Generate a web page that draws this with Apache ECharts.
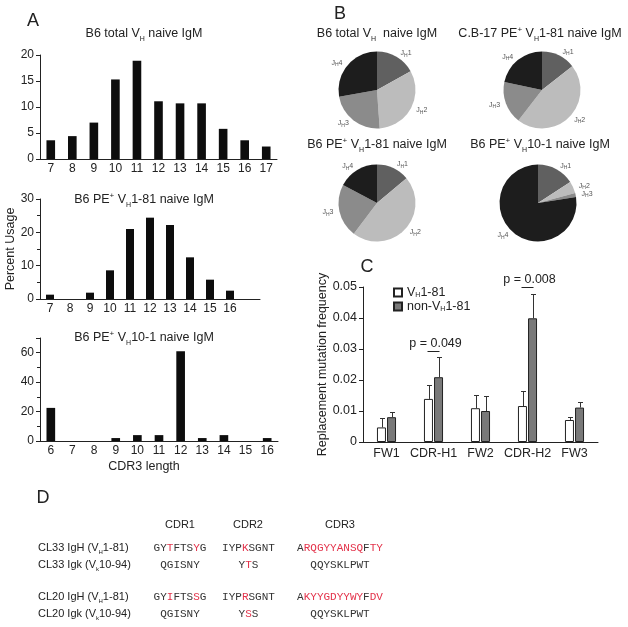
<!DOCTYPE html>
<html><head><meta charset="utf-8">
<script src="https://cdn.jsdelivr.net/npm/echarts@6/dist/echarts.min.js"></script>
<style>html,body{margin:0;padding:0;background:#fff}#c{width:628px;height:627px}</style>
</head><body><div id="c"></div>
<script>
// ---------- data ----------
const totalCats = ['7','8','9','10','11','12','13','14','15','16','17'];
const totalVals = [3.6, 4.4, 7.0, 15.3, 18.9, 11.1, 10.7, 10.7, 5.8, 3.6, 2.4];
const vh181Cats = ['7','8','9','10','11','12','13','14','15','16',''];
const vh181Vals = [1.3, 0, 1.9, 8.6, 21.0, 24.4, 22.2, 12.5, 5.8, 2.5];
const vh101Cats = ['6','7','8','9','10','11','12','13','14','15','16'];
const vh101Vals = [22.5, 0, 0, 2, 4, 4, 61, 2, 4, 0, 2];

const jhNames = ['JH1','JH2','JH3','JH4'];
const pieB6Total = [16.9, 32.0, 23.3, 27.8];
const pieCB17 = [14.4, 46.1, 17.8, 21.7];
const pieB6PE181 = [13.9, 46.4, 22.5, 17.2];
const pieB6PE101 = [15.8, 5.0, 1.7, 77.5];

const regions = ['FW1','CDR-H1','FW2','CDR-H2','FW3'];
const vhFreq = [0.0047, 0.0139, 0.0109, 0.0116, 0.0071];
const vhErrTop = [0.0076, 0.0183, 0.0152, 0.0165, 0.0082];
const nonFreq = [0.0080, 0.0209, 0.0100, 0.0399, 0.0111];
const nonErrTop = [0.0098, 0.0274, 0.0148, 0.0476, 0.0128];
const pRegions = [1, 3];
const pLevels = [0.0295, 0.050];
const pLabels = ['p = 0.049', 'p = 0.008'];

const seqRows = [
  {name:'CL33 IgH (V', sub:'H', tail:'1-81)', cdr1:'GYTFTSYG', r1:[2,6], cdr2:'IYPKSGNT', r2:[3], cdr3:'ARQGYYANSQFTY', r3:[1,2,3,4,5,6,7,8,9,11,12]},
  {name:'CL33 Igk (V', sub:'k', tail:'10-94)', cdr1:'QGISNY', r1:[], cdr2:'YTS', r2:[1], cdr3:'QQYSKLPWT', r3:[]},
  {name:'CL20 IgH (V', sub:'H', tail:'1-81)', cdr1:'GYIFTSSG', r1:[2,6], cdr2:'IYPRSGNT', r2:[3], cdr3:'AKYYGDYYWYFDV', r3:[1,2,3,4,5,6,7,8,9,11,12]},
  {name:'CL20 Igk (V', sub:'k', tail:'10-94)', cdr1:'QGISNY', r1:[], cdr2:'YSS', r2:[1], cdr3:'QQYSKLPWT', r3:[]}
];

// ---------- helpers ----------
const F = 'Liberation Sans, Arial, Helvetica, sans-serif';
const M = 'Liberation Mono, Courier New, monospace';
const TXT = '#222';
const richBase = (fs) => ({
  n: {fontSize: fs, fontFamily: F, fill: TXT, color: TXT, lineHeight: fs + 4},
  s: {fontSize: Math.round(fs * 0.58), fontFamily: F, fill: TXT, color: TXT, lineHeight: Math.round(fs*0.6), verticalAlign: 'bottom'},
  p: {fontSize: Math.round(fs * 0.62), fontFamily: F, fill: TXT, color: TXT, lineHeight: Math.round(fs*0.85), verticalAlign: 'top'}
});
function gtext(x, y, text, fs, align, rich) {
  return {type: 'text', x: x, y: y, silent: true, style: {
    text: text, rich: rich || richBase(fs), fontSize: fs, fontFamily: F, fill: TXT,
    align: align || 'center', textAlign: align || 'center', verticalAlign: 'middle', textVerticalAlign: 'middle'}};
}
function seqRich(seq, red) {
  let out = '', cur = null, buf = '';
  for (let i = 0; i < seq.length; i++) {
    const st = red.indexOf(i) >= 0 ? 'r' : 'k';
    if (st !== cur && buf) { out += '{' + cur + '|' + buf + '}'; buf = ''; }
    cur = st; buf += seq[i];
  }
  if (buf) out += '{' + cur + '|' + buf + '}';
  return out;
}
const seqStyles = {
  k: {fontSize: 11, fontFamily: M, fill: '#333', color: '#333'},
  r: {fontSize: 11, fontFamily: M, fill: '#e3324a', color: '#e3324a'}
};

const axisLineStyle = {show: true, lineStyle: {color: TXT, width: 1}};

// ---------- graphics (titles, panel letters, panel D) ----------
const graphics = [
  gtext(33, 21, '{n|A}', 18),
  gtext(340, 14, '{n|B}', 18),
  gtext(367, 267, '{n|C}', 18),
  gtext(43, 498, '{n|D}', 18),
  gtext(144, 34, '{n|B6 total V}{s|H}{n| naive IgM}', 12.5),
  gtext(144, 200, '{n|B6 PE}{p|+}{n| V}{s|H}{n|1-81 naive IgM}', 12.5),
  gtext(144, 338, '{n|B6 PE}{p|+}{n| V}{s|H}{n|10-1 naive IgM}', 12.5),
  gtext(144, 467, '{n|CDR3 length}', 12.5),
  gtext(377, 34, '{n|B6 total V}{s|H}{n|  naive IgM}', 12.5),
  gtext(540, 34, '{n|C.B-17 PE}{p|+}{n| V}{s|H}{n|1-81 naive IgM}', 12.5),
  gtext(377, 145, '{n|B6 PE}{p|+}{n| V}{s|H}{n|1-81 naive IgM}', 12.5),
  gtext(540, 145, '{n|B6 PE}{p|+}{n| V}{s|H}{n|10-1 naive IgM}', 12.5),
  gtext(180, 525, '{n|CDR1}', 11),
  gtext(248, 525, '{n|CDR2}', 11),
  gtext(340, 525, '{n|CDR3}', 11)
];
const rowY = [548, 565, 597, 614];
seqRows.forEach((r, i) => {
  graphics.push(gtext(38, rowY[i], '{n|' + r.name + '}{s|' + r.sub + '}{n|' + r.tail + '}', 11, 'left'));
  graphics.push(gtext(180, rowY[i], seqRich(r.cdr1, r.r1), 11, 'center', seqStyles));
  graphics.push(gtext(248.5, rowY[i], seqRich(r.cdr2, r.r2), 11, 'center', seqStyles));
  graphics.push(gtext(340, rowY[i], seqRich(r.cdr3, r.r3), 11, 'center', seqStyles));
});

// ---------- pies ----------
const jhColors = ['#606060', '#bcbcbc', '#8b8b8b', '#1d1d1d'];
function pieSeries(vals, cx, cy) {
  return {
    type: 'pie', center: [cx, cy], radius: 38.5, startAngle: 90, clockwise: true,
    avoidLabelOverlap: false, silent: true, animation: false,
    data: vals.map((v, i) => ({name: jhNames[i], value: v, itemStyle: {color: jhColors[i]}})),
    label: {show: true, position: 'outside', distanceToLabelLine: 2,
      formatter: p => '{j|J}{h|H}{j|' + (p.dataIndex + 1) + '}',
      rich: {j: {fontSize: 7, fontFamily: F, color: '#555', lineHeight: 9},
             h: {fontSize: 5, fontFamily: F, color: '#555', lineHeight: 5, verticalAlign: 'bottom'}}},
    labelLine: {show: false, length: 4, length2: 0}
  };
}

// ---------- error bars ----------
function errRender(offset) {
  return function (params, api) {
    const i = api.value(0);
    const p0 = api.coord([i, api.value(1)]);
    const p1 = api.coord([i, api.value(2)]);
    const x = Math.round(p0[0] + offset) + 0.5;
    const yt = Math.round(p1[1]) + 0.5;
    return {type: 'group', children: [
      {type: 'line', shape: {x1: x, y1: p0[1], x2: x, y2: yt}, style: {stroke: '#333', lineWidth: 1}},
      {type: 'line', shape: {x1: x - 2.5, y1: yt, x2: x + 2.5, y2: yt}, style: {stroke: '#333', lineWidth: 1}}
    ]};
  };
}

const yLabel = {color: TXT, fontFamily: F, fontSize: 12, margin: 6};
const xLabel = {color: TXT, fontFamily: F, fontSize: 12, margin: 4, interval: 0};

const option = {
  animation: false,
  backgroundColor: '#fff',
  graphic: graphics,
  legend: {
    left: 388, top: 281, orient: 'vertical', itemWidth: 8, itemHeight: 8, itemGap: 1, icon: 'rect',
    data: ['VH1-81', 'non-VH1-81'], selectedMode: false,
    formatter: n => n === 'VH1-81' ? '{n|V}{s|H}{n|1-81}' : '{n|non-V}{s|H}{n|1-81}',
    textStyle: {rich: {
      n: {fontSize: 12.5, fontFamily: F, color: TXT, lineHeight: 13},
      s: {fontSize: 7, fontFamily: F, color: TXT, lineHeight: 7, verticalAlign: 'bottom'}}}
  },
  grid: [
    {left: 40, top: 55, width: 237, height: 104, outerBoundsMode: 'none'},
    {left: 40, top: 199, width: 220, height: 100, outerBoundsMode: 'none'},
    {left: 40, top: 338, width: 238, height: 103, outerBoundsMode: 'none'},
    {left: 363, top: 287, width: 235, height: 155, outerBoundsMode: 'none'}
  ],
  xAxis: [
    {type: 'category', gridIndex: 0, data: totalCats, axisLine: axisLineStyle, axisTick: {show: false}, axisLabel: xLabel},
    {type: 'category', gridIndex: 1, data: vh181Cats, axisLine: axisLineStyle, axisTick: {show: false}, axisLabel: xLabel},
    {type: 'category', gridIndex: 2, data: vh101Cats, axisLine: axisLineStyle, axisTick: {show: false}, axisLabel: xLabel},
    {type: 'category', gridIndex: 3, data: regions, axisLine: axisLineStyle, axisTick: {show: false},
      axisLabel: {color: TXT, fontFamily: F, fontSize: 12.5, margin: 5, interval: 0}}
  ],
  yAxis: [
    {type: 'value', gridIndex: 0, min: 0, max: 20, interval: 5, axisLine: axisLineStyle,
      axisTick: {show: true, length: 4, lineStyle: {color: TXT}}, splitLine: {show: false}, axisLabel: yLabel},
    {type: 'value', gridIndex: 1, min: 0, max: 30, interval: 10, axisLine: axisLineStyle,
      axisTick: {show: true, length: 4, lineStyle: {color: TXT}},
      minorTick: {show: true, splitNumber: 2, length: 3, lineStyle: {color: TXT}},
      splitLine: {show: false}, axisLabel: yLabel,
      name: 'Percent Usage', nameLocation: 'middle', nameGap: 23, nameRotate: 90,
      nameTextStyle: {color: TXT, fontFamily: F, fontSize: 12.5}},
    {type: 'value', gridIndex: 2, min: 0, max: 70, interval: 20, axisLine: axisLineStyle,
      axisTick: {show: true, length: 4, lineStyle: {color: TXT}},
      minorTick: {show: true, splitNumber: 2, length: 3, lineStyle: {color: TXT}},
      splitLine: {show: false}, axisLabel: Object.assign({showMaxLabel: false}, yLabel)},
    {type: 'value', gridIndex: 3, min: 0, max: 0.05, interval: 0.01, axisLine: axisLineStyle,
      axisTick: {show: true, length: 4, lineStyle: {color: TXT}}, splitLine: {show: false},
      axisLabel: {color: TXT, fontFamily: F, fontSize: 12.5, margin: 6, formatter: v => v === 0 ? '0' : v.toFixed(2)},
      name: 'Replacement mutation frequency', nameLocation: 'middle', nameGap: 32, nameRotate: 90,
      nameTextStyle: {color: TXT, fontFamily: F, fontSize: 12.5}}
  ],
  series: [
    {type: 'bar', xAxisIndex: 0, yAxisIndex: 0, data: totalVals, barWidth: '40%', itemStyle: {color: '#0d0d0d'}, silent: true},
    {type: 'bar', xAxisIndex: 1, yAxisIndex: 1, data: vh181Vals, barWidth: '40%', itemStyle: {color: '#0d0d0d'}, silent: true},
    {type: 'bar', xAxisIndex: 2, yAxisIndex: 2, data: vh101Vals, barWidth: '40%', itemStyle: {color: '#0d0d0d'}, silent: true},
    {type: 'bar', name: 'VH1-81', xAxisIndex: 3, yAxisIndex: 3, data: vhFreq, barWidth: 9, barGap: '12%',
      itemStyle: {color: '#ffffff', borderColor: '#222', borderWidth: 1}, silent: true},
    {type: 'bar', name: 'non-VH1-81', xAxisIndex: 3, yAxisIndex: 3, data: nonFreq, barWidth: 9, barGap: '12%',
      itemStyle: {color: '#797979', borderColor: '#222', borderWidth: 1}, silent: true},
    {type: 'custom', xAxisIndex: 3, yAxisIndex: 3, renderItem: errRender(-5), silent: true, z: 5,
      data: regions.map((r, i) => [i, vhFreq[i], vhErrTop[i]])},
    {type: 'custom', xAxisIndex: 3, yAxisIndex: 3, renderItem: errRender(5), silent: true, z: 5,
      data: regions.map((r, i) => [i, nonFreq[i], nonErrTop[i]])},
    {type: 'custom', xAxisIndex: 3, yAxisIndex: 3, silent: true, z: 5, clip: false,
      data: pRegions.map((r, i) => [r, pLevels[i]]),
      renderItem: (params, api) => {
        const c = api.coord([api.value(0), api.value(1)]);
        const y = Math.round(c[1]) + 0.5;
        return {type: 'group', children: [
          {type: 'line', shape: {x1: c[0] - 6, y1: y, x2: c[0] + 6, y2: y}, style: {stroke: '#222', lineWidth: 1}},
          {type: 'text', x: c[0] + 2, y: y - 8, style: {text: pLabels[params.dataIndex], fontSize: 12.5, fontFamily: F,
            fill: TXT, align: 'center', verticalAlign: 'middle'}}
        ]};
      }},
    pieSeries(pieB6Total, 377, 90),
    pieSeries(pieCB17, 542, 90),
    pieSeries(pieB6PE181, 377, 203),
    pieSeries(pieB6PE101, 538, 203)
  ]
};
const chart = echarts.init(document.getElementById('c'), null, {renderer: 'canvas'});
chart.setOption(option);
</script>
</body></html>
